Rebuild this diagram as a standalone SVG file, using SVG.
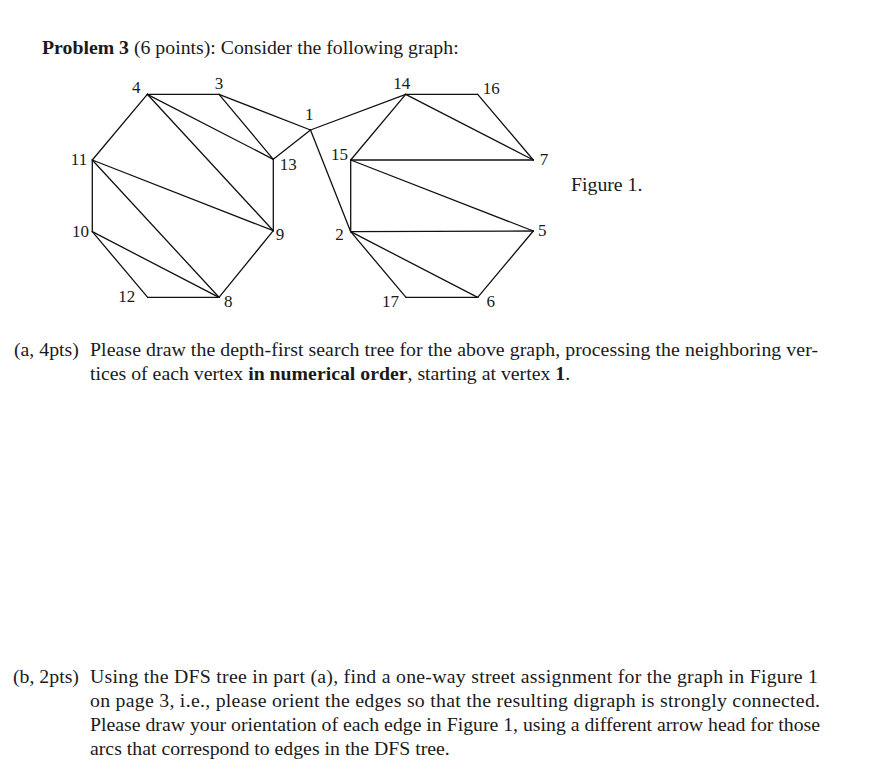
<svg xmlns="http://www.w3.org/2000/svg" width="874" height="779" viewBox="0 0 874 779">
<style>
.t{font-family:"Liberation Serif","Times New Roman",serif;font-size:19.8px;fill:#1a1a1a}
.b{font-weight:bold}
.n{font-family:"Liberation Serif","Times New Roman",serif;font-size:17px;fill:#1a1a1a;text-anchor:middle}
.e line{stroke:#111;stroke-width:1.3;stroke-linecap:round}
</style>
<rect width="874" height="779" fill="#fff"/>
<text class="t" y="54"><tspan x="42" class="b">Problem 3</tspan> (6 points): Consider the following graph:</text>
<g class="e" id="connectors">
<line x1="147.3" y1="94.3" x2="219" y2="94.3"/>
<line x1="219" y1="94.3" x2="310.5" y2="130"/>
<line x1="219" y1="94.3" x2="273.3" y2="159.3"/>
<line x1="147.3" y1="94.3" x2="273.3" y2="159.3"/>
<line x1="147.3" y1="94.3" x2="273.3" y2="230.7"/>
<line x1="147.3" y1="94.3" x2="92.3" y2="160"/>
<line x1="92.3" y1="160" x2="273.3" y2="230.7"/>
<line x1="92.3" y1="160" x2="219" y2="297.3"/>
<line x1="92.3" y1="160" x2="92.3" y2="231.7"/>
<line x1="92.3" y1="231.7" x2="219" y2="297.3"/>
<line x1="92.3" y1="231.7" x2="147.7" y2="297.3"/>
<line x1="147.7" y1="297.3" x2="219" y2="297.3"/>
<line x1="219" y1="297.3" x2="273.3" y2="230.7"/>
<line x1="273.3" y1="230.7" x2="273.3" y2="159.3"/>
<line x1="273.3" y1="159.3" x2="310.5" y2="130"/>
<line x1="310.5" y1="130" x2="405.7" y2="94.3"/>
<line x1="310.5" y1="130" x2="350.7" y2="231.7"/>
<line x1="405.7" y1="94.3" x2="477.7" y2="94.3"/>
<line x1="405.7" y1="94.3" x2="350.7" y2="160"/>
<line x1="405.7" y1="94.3" x2="533.3" y2="160"/>
<line x1="477.7" y1="94.3" x2="533.3" y2="160"/>
<line x1="350.7" y1="160" x2="533.3" y2="160"/>
<line x1="350.7" y1="160" x2="533.3" y2="231"/>
<line x1="350.7" y1="160" x2="350.7" y2="231.7"/>
<line x1="350.7" y1="231.7" x2="533.3" y2="231"/>
<line x1="350.7" y1="231.7" x2="477.7" y2="297.3"/>
<line x1="350.7" y1="231.7" x2="406" y2="297.3"/>
<line x1="406" y1="297.3" x2="477.7" y2="297.3"/>
<line x1="477.7" y1="297.3" x2="533.3" y2="231"/>
</g>
<g id="n1"><text class="n" x="309.3" y="120">1</text></g>
<g id="n2"><text class="n" x="339.5" y="240">2</text></g>
<g id="n3"><text class="n" x="219" y="89">3</text></g>
<g id="n4"><text class="n" x="136.3" y="93">4</text></g>
<g id="n5"><text class="n" x="542.3" y="236">5</text></g>
<g id="n6"><text class="n" x="490.7" y="307">6</text></g>
<g id="n7"><text class="n" x="544" y="165">7</text></g>
<g id="n8"><text class="n" x="228.3" y="307">8</text></g>
<g id="n9"><text class="n" x="280" y="240">9</text></g>
<g id="n10"><text class="n" x="80.5" y="236.5">10</text></g>
<g id="n11"><text class="n" x="79" y="165">11</text></g>
<g id="n12"><text class="n" x="126.7" y="302">12</text></g>
<g id="n13"><text class="n" x="288.3" y="170">13</text></g>
<g id="n14"><text class="n" x="401.7" y="89">14</text></g>
<g id="n15"><text class="n" x="339.5" y="160">15</text></g>
<g id="n16"><text class="n" x="491.3" y="94">16</text></g>
<g id="n17"><text class="n" x="390.5" y="306.5">17</text></g>
<text class="t" x="571" y="191">Figure 1.</text>
<text class="t" x="14" y="356">(a, 4pts)</text>
<text class="t" x="90" y="356" textLength="728">Please draw the depth-first search tree for the above graph, processing the neighboring ver-</text>
<text class="t" x="90" y="380">tices of each vertex <tspan class="b">in numerical order</tspan>, starting at vertex <tspan class="b">1</tspan>.</text>
<text class="t" x="13" y="683">(b, 2pts)</text>
<text class="t" x="90" y="683" textLength="728">Using the DFS tree in part (a), find a one-way street assignment for the graph in Figure 1</text>
<text class="t" x="90" y="707" textLength="730">on page 3, i.e., please orient the edges so that the resulting digraph is strongly connected.</text>
<text class="t" x="90" y="731" textLength="730">Please draw your orientation of each edge in Figure 1, using a different arrow head for those</text>
<text class="t" x="90" y="755">arcs that correspond to edges in the DFS tree.</text>
</svg>
